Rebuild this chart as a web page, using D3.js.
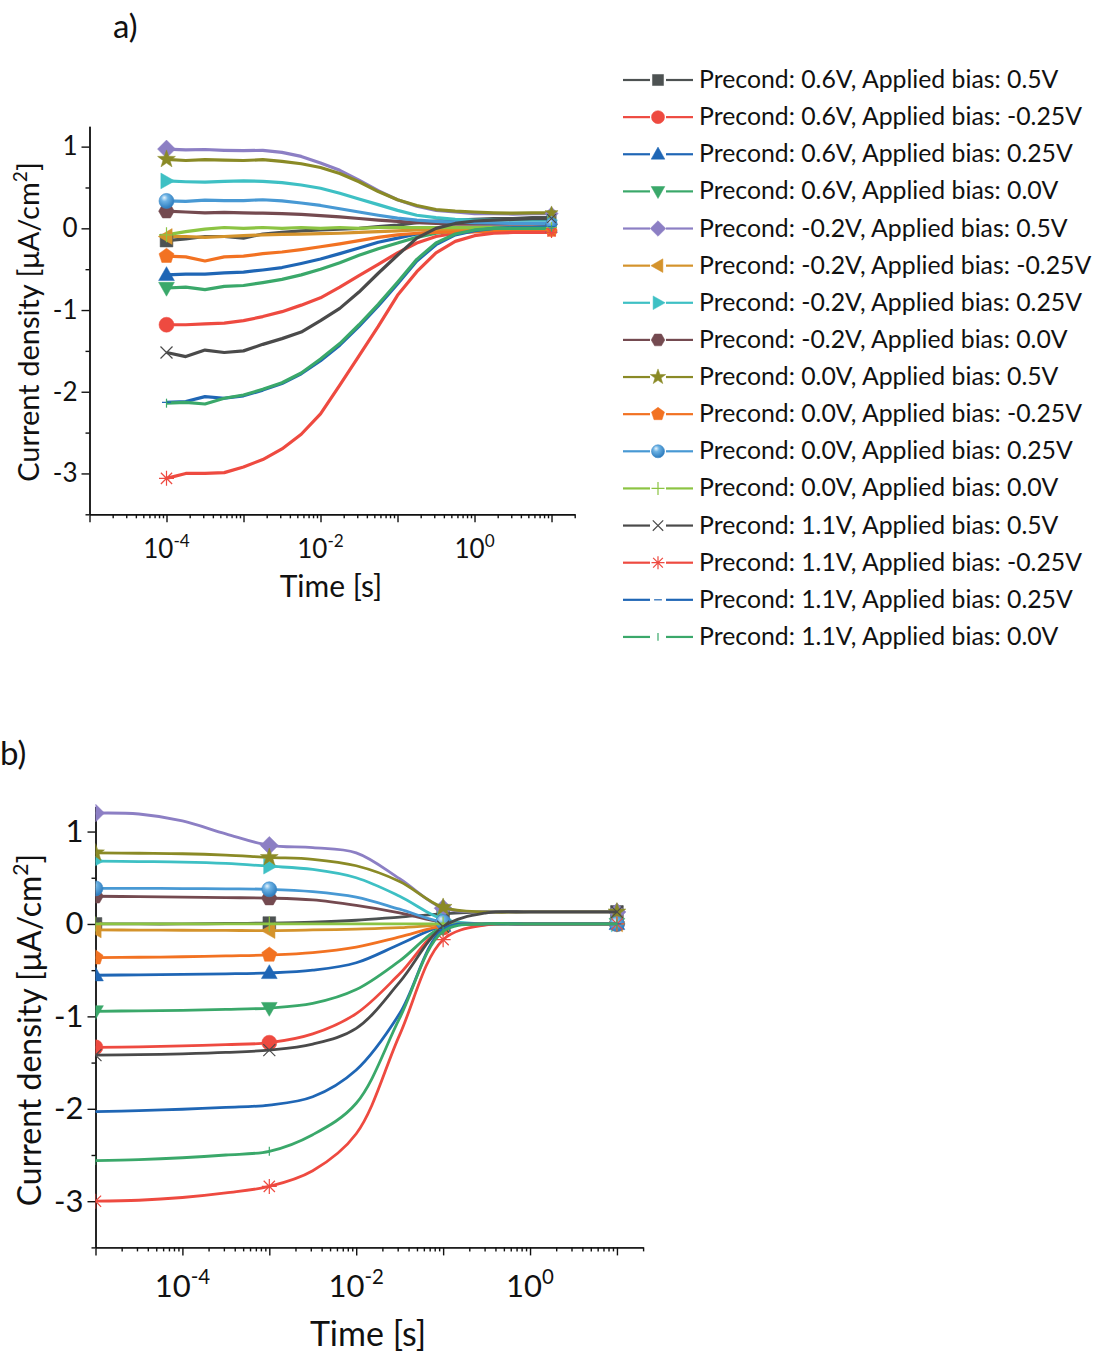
<!DOCTYPE html>
<html><head><meta charset="utf-8">
<script src="https://cdn.jsdelivr.net/npm/d3@7"></script>
<style>
body{margin:0;background:#fff;}
svg{display:block;font-family:Lato,"Open Sans",sans-serif;}
</style>
</head><body>
<svg id="chart" width="1105" height="1354"></svg>
<script>
// ---------- DATA ----------
const seriesNames = [
  "Precond: 0.6V, Applied bias: 0.5V",
  "Precond: 0.6V, Applied bias: -0.25V",
  "Precond: 0.6V, Applied bias: 0.25V",
  "Precond: 0.6V, Applied bias: 0.0V",
  "Precond: -0.2V, Applied bias: 0.5V",
  "Precond: -0.2V, Applied bias: -0.25V",
  "Precond: -0.2V, Applied bias: 0.25V",
  "Precond: -0.2V, Applied bias: 0.0V",
  "Precond: 0.0V, Applied bias: 0.5V",
  "Precond: 0.0V, Applied bias: -0.25V",
  "Precond: 0.0V, Applied bias: 0.25V",
  "Precond: 0.0V, Applied bias: 0.0V",
  "Precond: 1.1V, Applied bias: 0.5V",
  "Precond: 1.1V, Applied bias: -0.25V",
  "Precond: 1.1V, Applied bias: 0.25V",
  "Precond: 1.1V, Applied bias: 0.0V"
];
const seriesColors = ["#4d5252","#ee4a40","#1f66b5","#3aa86a","#8c7fc4","#d4932c","#3ec0c4","#744a50",
                      "#8a8a26","#f27222","#4899d4","#8cc443","#4a4a4a","#ee4a40","#1f66b5","#3aa86a"];
const seriesMarkers = ["square","circle","triUp","triDown","diamond","triLeft","triRight","hexagon",
                       "star","pentagon","sphere","plus","cross","asterisk","dash","bar"];

// Panel a: time [s] and current density [uA/cm2]
const timeA = [1e-4,1.78e-4,3.16e-4,5.62e-4,1e-3,1.78e-3,3.16e-3,5.62e-3,1e-2,1.78e-2,3.16e-2,5.62e-2,
               0.1,0.178,0.316,0.562,1,1.78,3.16,5.62,10];
const a01 = [-0.15,-0.13,-0.10,-0.10,-0.12,-0.07,-0.05,-0.03,-0.02,-0.01,0.00,0.02,0.04,0.07,0.09,0.10,0.11,0.12,0.12,0.13,0.13];
const a02 = [-1.18,-1.18,-1.17,-1.16,-1.13,-1.08,-1.02,-0.94,-0.85,-0.72,-0.58,-0.44,-0.30,-0.18,-0.10,-0.06,-0.04,-0.03,-0.03,-0.03,-0.03];
const a03 = [-0.57,-0.56,-0.56,-0.545,-0.535,-0.51,-0.48,-0.43,-0.375,-0.31,-0.24,-0.17,-0.12,-0.07,-0.04,-0.02,-0.01,0.00,0.00,0.00,0.00];
const a04 = [-0.73,-0.72,-0.75,-0.71,-0.70,-0.665,-0.625,-0.57,-0.50,-0.42,-0.33,-0.25,-0.18,-0.11,-0.06,-0.03,-0.01,0.00,0.00,0.00,0.00];
const a05 = [0.97,0.96,0.965,0.955,0.95,0.955,0.93,0.88,0.80,0.71,0.59,0.46,0.35,0.27,0.22,0.20,0.18,0.18,0.175,0.18,0.18];
const a06 = [-0.10,-0.10,-0.11,-0.10,-0.09,-0.08,-0.075,-0.07,-0.065,-0.06,-0.05,-0.04,-0.03,-0.02,-0.02,-0.02,-0.02,-0.02,-0.02,-0.02,-0.02];
const a07 = [0.58,0.57,0.565,0.575,0.58,0.575,0.56,0.53,0.49,0.43,0.36,0.29,0.22,0.16,0.13,0.11,0.10,0.10,0.10,0.10,0.10];
const a08 = [0.21,0.20,0.19,0.195,0.19,0.185,0.18,0.17,0.155,0.14,0.12,0.10,0.085,0.07,0.06,0.05,0.05,0.05,0.05,0.05,0.05];
const a09 = [0.845,0.83,0.84,0.835,0.83,0.84,0.82,0.79,0.745,0.67,0.57,0.45,0.35,0.28,0.23,0.21,0.20,0.19,0.185,0.19,0.19];
const a10 = [-0.34,-0.35,-0.40,-0.35,-0.34,-0.31,-0.29,-0.26,-0.225,-0.19,-0.15,-0.11,-0.08,-0.06,-0.05,-0.045,-0.04,-0.04,-0.04,-0.04,-0.04];
const a11 = [0.335,0.33,0.345,0.34,0.34,0.35,0.335,0.31,0.28,0.24,0.20,0.16,0.125,0.10,0.085,0.075,0.07,0.065,0.06,0.06,0.06];
const a12 = [-0.08,-0.04,-0.01,0.01,0.00,0.01,0.00,0.01,0.00,0.01,0.00,0.01,0.01,0.01,0.01,0.01,0.01,0.01,0.01,0.01,0.01];
const a13 = [-1.52,-1.57,-1.49,-1.52,-1.50,-1.42,-1.35,-1.27,-1.13,-0.98,-0.78,-0.55,-0.33,-0.12,0.00,0.06,0.09,0.10,0.11,0.12,0.12];
const a14 = [-3.06,-3.00,-3.00,-2.99,-2.92,-2.83,-2.70,-2.52,-2.27,-1.92,-1.56,-1.20,-0.82,-0.53,-0.30,-0.16,-0.09,-0.06,-0.05,-0.05,-0.05];
const a15 = [-2.13,-2.12,-2.06,-2.08,-2.05,-1.98,-1.90,-1.78,-1.62,-1.43,-1.20,-0.95,-0.68,-0.40,-0.20,-0.08,-0.03,0.00,0.01,0.01,0.02];
const a16 = [-2.14,-2.13,-2.15,-2.08,-2.04,-1.97,-1.89,-1.77,-1.60,-1.41,-1.18,-0.93,-0.66,-0.38,-0.18,-0.07,-0.02,0.00,0.00,0.00,0.00];
const seriesA = [a01,a02,a03,a04,a05,a06,a07,a08,a09,a10,a11,a12,a13,a14,a15,a16];

// Panel b
const timeB = [1e-5,3.16e-5,1e-4,3.16e-4,1e-3,3.16e-3,1e-2,3.16e-2,0.1,0.316,1,3.16,10];
const b01 = [0,0,0,0.005,0.01,0.02,0.04,0.075,0.11,0.13,0.13,0.13,0.13];
const b02 = [-1.335,-1.33,-1.32,-1.305,-1.285,-1.19,-0.97,-0.54,-0.04,0,0,0,0];
const b03 = [-0.555,-0.55,-0.545,-0.54,-0.53,-0.50,-0.42,-0.22,-0.02,0,0,0,0];
const b04 = [-0.945,-0.94,-0.935,-0.925,-0.91,-0.86,-0.71,-0.40,-0.03,0,0,0,0];
const b05 = [1.20,1.19,1.115,0.975,0.85,0.826,0.77,0.49,0.17,0.13,0.13,0.13,0.13];
const b06 = [-0.065,-0.066,-0.068,-0.07,-0.072,-0.065,-0.055,-0.04,-0.01,0,0,0,0];
const b07 = [0.68,0.675,0.67,0.655,0.625,0.59,0.50,0.30,0.05,0,0,0,0];
const b08 = [0.30,0.295,0.29,0.285,0.28,0.26,0.20,0.12,0.02,0,0,0,0];
const b09 = [0.77,0.765,0.76,0.745,0.72,0.70,0.63,0.46,0.18,0.13,0.13,0.13,0.13];
const b10 = [-0.365,-0.36,-0.355,-0.345,-0.335,-0.31,-0.25,-0.14,-0.02,0,0,0,0];
const b11 = [0.385,0.385,0.383,0.38,0.375,0.35,0.29,0.16,0.02,0,0,0,0];
const b12 = [0,0,0,0,0,0,0,0,0,0,0,0,0];
const b13 = [-1.42,-1.415,-1.405,-1.39,-1.365,-1.30,-1.13,-0.63,-0.03,0.12,0.13,0.13,0.13];
const b14 = [-3.0,-2.99,-2.96,-2.91,-2.84,-2.67,-2.27,-1.20,-0.17,-0.01,0,0,0];
const b15 = [-2.03,-2.02,-2.005,-1.985,-1.96,-1.87,-1.58,-0.97,-0.06,0,0,0,0];
const b16 = [-2.56,-2.55,-2.53,-2.50,-2.46,-2.28,-1.94,-1.02,-0.08,0,0,0,0];
const seriesB = [b01,b02,b03,b04,b05,b06,b07,b08,b09,b10,b11,b12,b13,b14,b15,b16];
const markerIdxB = [0,4,8,12];

const yTickValues = [-3,-2,-1,0,1];
const yMinorValues = [-3.5,-2.5,-1.5,-0.5,0.5];
const xMajorValues = [1e-5,1e-4,1e-3,1e-2,1e-1,1,10];
const xLabelValues = [1e-4,1e-2,1];
const xLabelExps = ["-4","-2","0"];

// ---------- DRAWING ----------
const svg = d3.select("#chart");
const defs = svg.append("defs");
const grad = defs.append("radialGradient").attr("id","sphereGrad")
  .attr("cx","40%").attr("cy","35%").attr("r","65%").attr("fx","35%").attr("fy","28%");
grad.append("stop").attr("offset","0%").attr("stop-color","#e8f4fc");
grad.append("stop").attr("offset","35%").attr("stop-color","#6cb2e4");
grad.append("stop").attr("offset","100%").attr("stop-color","#2c7bbd");

const thin = new Set(["plus","cross","asterisk","dash","bar"]);
function poly(pts){return "M"+pts.map(p=>p[0].toFixed(2)+","+p[1].toFixed(2)).join("L")+"Z";}
function markerPath(shape, r){
  switch(shape){
    case "square": {const s=r*0.85; return `M${-s},${-s}H${s}V${s}H${-s}Z`;}
    case "circle": case "sphere": return `M${-r},0A${r},${r} 0 1,0 ${r},0A${r},${r} 0 1,0 ${-r},0Z`;
    case "triUp": return poly([[0,-r*1.1],[r*1.05,r*0.75],[-r*1.05,r*0.75]]);
    case "triDown": return poly([[0,r*1.1],[r*1.05,-r*0.75],[-r*1.05,-r*0.75]]);
    case "triLeft": return poly([[-r*1.1,0],[r*0.75,-r*1.05],[r*0.75,r*1.05]]);
    case "triRight": return poly([[r*1.1,0],[-r*0.75,-r*1.05],[-r*0.75,r*1.05]]);
    case "diamond": return poly([[0,-r*1.2],[r*1.2,0],[0,r*1.2],[-r*1.2,0]]);
    case "hexagon": return poly(d3.range(6).map(i=>[r*1.05*Math.cos(i*Math.PI/3),r*1.05*Math.sin(i*Math.PI/3)]));
    case "pentagon": return poly(d3.range(5).map(i=>[r*1.05*Math.cos(-Math.PI/2+i*2*Math.PI/5),r*1.05*Math.sin(-Math.PI/2+i*2*Math.PI/5)]));
    case "star": return poly(d3.range(10).map(i=>{const rr=i%2?r*0.5:r*1.25;const a=-Math.PI/2+i*Math.PI/5;return [rr*Math.cos(a),rr*Math.sin(a)];}));
    case "plus": return `M${-r},0H${r}M0,${-r}V${r}`;
    case "cross": {const s=r*0.8; return `M${-s},${-s}L${s},${s}M${-s},${s}L${s},${-s}`;}
    case "asterisk": {const s=r*0.75; return `M${-r},0H${r}M0,${-r}V${r}M${-s},${-s}L${s},${s}M${-s},${s}L${s},${-s}`;}
    case "dash": return `M${-r*0.6},0H${r*0.6}`;
    case "bar": return `M0,${-r*0.6}V${r*0.6}`;
  }
}
function drawMarker(g, shape, x, y, r, color){
  const p = g.append("path").attr("d", markerPath(shape, r)).attr("transform",`translate(${x},${y})`);
  if (thin.has(shape)) p.attr("fill","none").attr("stroke",color).attr("stroke-width",1.2);
  else if (shape==="sphere") p.attr("fill","url(#sphereGrad)").attr("stroke","#3a88c8").attr("stroke-width",0.6);
  else p.attr("fill",color).attr("stroke",color).attr("stroke-width",0.5);
}

function drawAxes(g, x, y, cfg){
  const yAx = g.append("g").attr("transform",`translate(${x.range()[0]},0)`)
    .call(d3.axisLeft(y).tickValues(yTickValues).tickSize(8).tickSizeOuter(0).tickFormat(d=>String(d)));
  yAx.selectAll("text").attr("font-size",cfg.tickFont).attr("font-family","Lato").attr("fill","#111").attr("x",-12);
  g.append("g").attr("transform",`translate(${x.range()[0]},0)`)
    .call(d3.axisLeft(y).tickValues(yMinorValues).tickSize(4).tickSizeOuter(0).tickFormat(""));
  g.append("g").attr("transform",`translate(0,${y.range()[0]})`)
    .call(d3.axisBottom(x).tickValues(xMajorValues).tickSize(8).tickSizeOuter(0).tickFormat(""));
  const minors=[];
  xMajorValues.forEach(d=>{for(let k=2;k<=9;k++){const v=d*k; if(v<=x.domain()[1]) minors.push(v);}});
  g.append("g").attr("transform",`translate(0,${y.range()[0]})`)
    .call(d3.axisBottom(x).tickValues(minors).tickSize(4).tickSizeOuter(0).tickFormat(""));
  g.selectAll(".domain,.tick line").attr("stroke","#111").attr("stroke-width",1.4);
  xLabelValues.forEach((v,i)=>{
    const t = g.append("text").attr("x",x(v)).attr("y",cfg.xLabY).attr("text-anchor","middle")
      .attr("font-size",cfg.tickFont).attr("fill","#111");
    t.append("tspan").text("10");
    t.append("tspan").attr("dy",-cfg.tickFont*0.42).attr("font-size",cfg.tickFont*0.66).text(xLabelExps[i]);
  });
  g.append("text").attr("x",cfg.xTitleX).attr("y",cfg.xTitleY).attr("text-anchor","middle")
    .attr("font-size",cfg.titleFont).attr("fill","#111").text("Time [s]");
  const yt = g.append("text").attr("transform",`translate(${cfg.yTitleX},${cfg.yTitleY}) rotate(-90)`)
    .attr("text-anchor","middle").attr("font-size",cfg.yTitleFont).attr("fill","#111");
  yt.append("tspan").text("Current density [\u03bcA/cm");
  yt.append("tspan").attr("dy",-cfg.yTitleFont*0.4).attr("font-size",cfg.yTitleFont*0.66).text("2");
  yt.append("tspan").attr("dy",cfg.yTitleFont*0.4).text("]");
}

// ---- Panel a ----
const xA = d3.scaleLog().domain([1e-5,20]).range([89.5,574.7]);
const yA = d3.scaleLinear().domain([-3.5,1.25]).range([514.3,126.2]);
const gA = svg.append("g");
drawAxes(gA, xA, yA, {tickFont:26, xLabY:558, xTitleX:331, xTitleY:597, titleFont:30,
  yTitleX:39, yTitleY:322, yTitleFont:29});
const lineA = d3.line().x((d,i)=>xA(timeA[i])).y(d=>yA(d)).curve(d3.curveLinear);
seriesA.forEach((s,k)=>{
  gA.append("path").attr("d",lineA(s)).attr("fill","none").attr("stroke",seriesColors[k])
    .attr("stroke-width",3.2).attr("stroke-linejoin","round");
});
seriesA.forEach((s,k)=>{
  drawMarker(gA, seriesMarkers[k], xA(timeA[0]), yA(s[0]), 7.5, seriesColors[k]);
  drawMarker(gA, seriesMarkers[k], xA(timeA[timeA.length-1]), yA(s[s.length-1]), 5.5, seriesColors[k]);
});

// ---- Panel b ----
const xB = d3.scaleLog().domain([1e-5,20]).range([95.5,643.1]);
const yB = d3.scaleLinear().domain([-3.5,1.27]).range([1247.4,806.6]);
const gB = svg.append("g");
defs.append("clipPath").attr("id","clipB").append("rect")
  .attr("x",95.5).attr("y",780).attr("width",600).attr("height",480);
drawAxes(gB, xB, yB, {tickFont:31, xLabY:1297, xTitleX:368, xTitleY:1346, titleFont:34,
  yTitleX:41, yTitleY:1030, yTitleFont:32});
const lineB = d3.line().x((d,i)=>xB(timeB[i])).y(d=>yB(d)).curve(d3.curveCatmullRom.alpha(0.5));
const plotB = gB.append("g").attr("clip-path","url(#clipB)");
seriesB.forEach((s,k)=>{
  plotB.append("path").attr("d",lineB(s)).attr("fill","none").attr("stroke",seriesColors[k])
    .attr("stroke-width",2.8);
  markerIdxB.forEach(i=>drawMarker(plotB, seriesMarkers[k], xB(timeB[i]), yB(s[i]), 7.5, seriesColors[k]));
});

// ---- Legend ----
const leg = svg.append("g");
seriesNames.forEach((name,k)=>{
  const cy = 80 + k*37.13;
  leg.append("line").attr("x1",623).attr("x2",650).attr("y1",cy).attr("y2",cy)
    .attr("stroke",seriesColors[k]).attr("stroke-width",2.2);
  leg.append("line").attr("x1",666).attr("x2",693).attr("y1",cy).attr("y2",cy)
    .attr("stroke",seriesColors[k]).attr("stroke-width",2.2);
  drawMarker(leg, seriesMarkers[k], 658, cy, 6.5, seriesColors[k]);
  leg.append("text").attr("x",699).attr("y",cy+8).attr("font-size",24.8).attr("fill","#111").text(name);
});

// panel labels
svg.append("text").attr("x",113).attr("y",38).attr("font-size",33).attr("fill","#111").text("a)");
svg.append("text").attr("x",0).attr("y",765).attr("font-size",33).attr("fill","#111").text("b)");
</script>
</body></html>
